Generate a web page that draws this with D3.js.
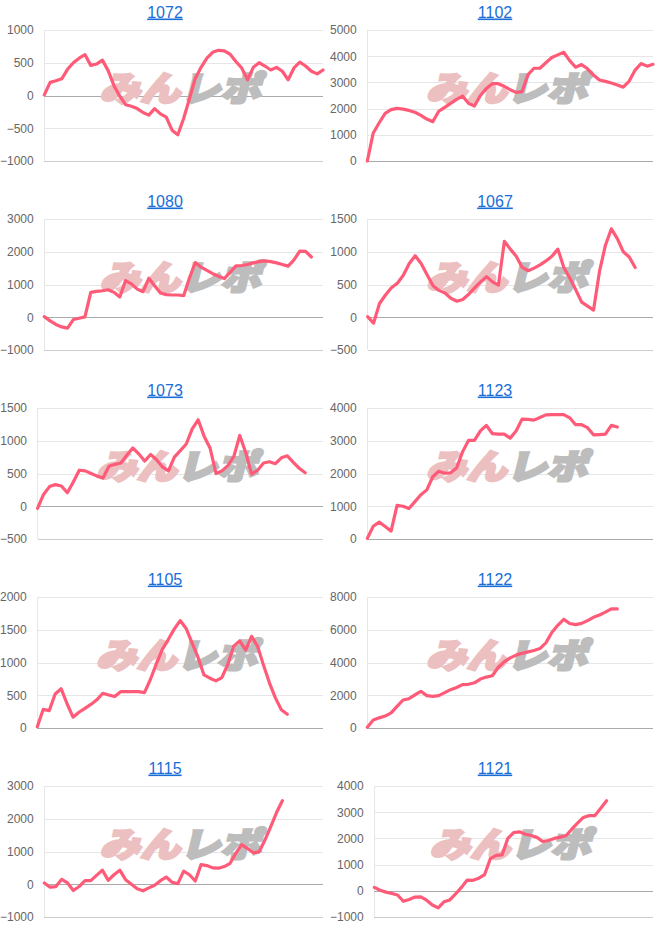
<!DOCTYPE html>
<html><head><meta charset="utf-8">
<script src="https://cdn.jsdelivr.net/npm/d3@7"></script>
<style>body{margin:0;background:#fff} svg{display:block}</style>
</head><body><svg id="c" width="660" height="945"></svg>
<script>
// ---- data ----
const machines = ["1072","1102","1080","1067","1073","1123","1105","1122","1115","1121"];
const xSlots = 48; // shared x extent (sample index)

const s1072 = [10,200,225,255,400,500,570,625,460,480,540,380,150,-10,-140,-165,-200,-260,-300,-200,-280,-330,-530,-600,-350,-50,260,430,570,660,690,680,630,520,420,240,430,500,450,390,430,370,240,420,510,450,370,330,390];
const s1102 = [0,1070,1460,1820,1960,2010,1980,1930,1860,1740,1600,1500,1900,2050,2200,2350,2480,2200,2100,2500,2770,2950,2950,2850,2720,2620,2650,3300,3540,3540,3750,3950,4050,4150,3830,3580,3680,3520,3280,3090,3040,2980,2900,2820,3050,3470,3720,3620,3690];
const s1080 = [20,-110,-220,-295,-330,-70,-30,10,760,790,810,840,760,620,1120,1020,860,780,1190,960,740,690,680,680,660,1200,1670,1530,1430,1330,1250,1180,1370,1570,1580,1610,1660,1700,1720,1700,1660,1610,1560,1750,2020,2010,1840];
const s1067 = [10,-90,210,340,450,520,640,820,940,820,650,480,410,370,290,245,270,350,450,540,620,540,490,1160,1040,930,760,710,750,800,860,930,1040,760,600,420,230,170,110,700,1100,1350,1200,1000,920,760];
const s1073 = [-30,180,300,330,310,205,370,550,540,500,460,430,610,640,660,780,890,800,690,790,710,600,540,750,850,950,1180,1320,1070,890,500,540,620,760,1080,820,490,550,660,680,650,740,770,670,580,510];
const s1123 = [20,390,515,380,240,1030,1000,930,1140,1350,1500,1900,2070,2010,2020,2170,2660,3010,3010,3300,3470,3220,3200,3200,3080,3300,3660,3650,3630,3710,3790,3800,3800,3800,3700,3490,3490,3400,3180,3190,3200,3470,3420];
const s1105 = [20,285,265,520,600,370,165,240,300,360,430,530,505,480,555,555,555,555,540,740,980,1200,1350,1510,1640,1520,1300,1080,810,760,720,770,970,1250,1330,1190,1400,1250,960,690,460,280,210];
const s1122 = [40,490,620,730,920,1320,1710,1790,2020,2240,1980,1930,1980,2160,2340,2470,2650,2670,2760,2990,3110,3190,3710,4040,4280,4450,4560,4650,4730,4850,5200,5830,6270,6640,6380,6310,6390,6560,6760,6900,7080,7280,7270];
const s1115 = [40,-90,-70,150,40,-190,-70,110,110,270,430,120,290,430,140,0,-140,-200,-110,-30,110,220,60,20,400,290,100,600,570,500,490,540,640,950,1210,1090,960,990,1350,1760,2190,2550];
const s1121 = [130,20,-50,-100,-160,-400,-330,-240,-230,-360,-540,-650,-420,-350,-120,130,410,400,480,620,1230,1350,1370,2000,2220,2250,2160,2110,2040,1880,1920,2000,2050,2100,2350,2580,2800,2870,2870,3150,3440];

const t1072 = [-1000,-500,0,500,1000];
const t1102 = [0,1000,2000,3000,4000,5000];
const t1080 = [-1000,0,1000,2000,3000];
const t1067 = [-500,0,500,1000,1500];
const t1073 = [-500,0,500,1000,1500];
const t1123 = [0,1000,2000,3000,4000];
const t1105 = [0,500,1000,1500,2000];
const t1122 = [0,2000,4000,6000,8000];
const t1115 = [-1000,0,1000,2000,3000];
const t1121 = [-1000,0,1000,2000,3000,4000];

const seriesList = [s1072,s1102,s1080,s1067,s1073,s1123,s1105,s1122,s1115,s1121];
const tickList = [t1072,t1102,t1080,t1067,t1073,t1123,t1105,t1122,t1115,t1121];

// ---- drawing ----
const svg = d3.select("#c");
const FONT = '"Liberation Sans", Arial, Helvetica, sans-serif';
const colW = 330, rowH = 189, plotTop = 30, plotBot = 161, plotRight = 323;

machines.forEach((m, i) => {
  const col = i % 2, row = Math.floor(i / 2);
  const g = svg.append("g").attr("transform", `translate(${col*colW},${row*rowH})`);
  const ticks = tickList[i], data = seriesList[i];

  // title
  g.append("text").attr("x", 165).attr("y", 17.5)
    .attr("text-anchor", "middle")
    .style("font-family", FONT).style("font-size", "16px")
    .style("text-decoration", "underline")
    .attr("fill", "#1a6ed8").text(m);

  // measure tick labels
  const tmp = g.append("g").style("font-family", FONT).style("font-size", "12px");
  let maxW = 0;
  ticks.forEach(t => {
    const tt = tmp.append("text").text(d3.format("d")(t));
    maxW = Math.max(maxW, tt.node().getComputedTextLength());
  });
  tmp.remove();
  const left = maxW + 10.6;

  const y = d3.scaleLinear().domain([ticks[0], ticks[ticks.length-1]]).range([plotBot, plotTop]);
  const x = d3.scaleLinear().domain([0, xSlots]).range([left, plotRight]);

  // left border
  g.append("line").attr("x1", left).attr("x2", left).attr("y1", plotTop).attr("y2", plotBot)
    .attr("stroke", "#e6e6e6").attr("stroke-width", 1).attr("shape-rendering", "crispEdges");

  // y axis with gridlines
  const ax = g.append("g").attr("transform", `translate(${left},0)`)
    .call(d3.axisLeft(y).tickValues(ticks).tickFormat(d3.format("d"))
      .tickSize(-(plotRight - left)).tickPadding(10.6));
  ax.select(".domain").remove();
  ax.attr("font-family", FONT).attr("font-size", 12);
  ax.selectAll(".tick text").attr("fill", "#666");
  ax.selectAll(".tick line")
    .attr("shape-rendering", "crispEdges")
    .attr("stroke", d => d === 0 ? "#ababab" : (d === ticks[0] ? "#cdcdcd" : "#e6e6e6"));

  // watermark
  const cx = (left + plotRight) / 2, cy = plotTop + 57;
  const wm = g.append("g").attr("transform", `translate(${cx},${cy}) skewX(-14) scale(1.06,0.9)`);
  const wt = wm.append("text").attr("x", 0).attr("y", 15)
    .attr("text-anchor", "middle")
    .style("font-family", '"Noto Sans CJK JP", sans-serif')
    .style("font-weight", 900).style("font-size", "38px")
    .attr("stroke-width", 3).attr("stroke-linejoin", "miter");
  wt.append("tspan").attr("fill", "#ecbfc1").attr("stroke", "#ecbfc1").text("みん");
  wt.append("tspan").attr("fill", "#bdbdbd").attr("stroke", "#bdbdbd").text("レポ");

  // line
  const line = d3.line().x((d, k) => x(k)).y(d => y(d));
  g.append("path").datum(data).attr("d", line)
    .attr("fill", "none").attr("stroke", "#ff5b78").attr("stroke-width", 3.2)
    .attr("stroke-linejoin", "round").attr("stroke-linecap", "round");
});
</script></body></html>
